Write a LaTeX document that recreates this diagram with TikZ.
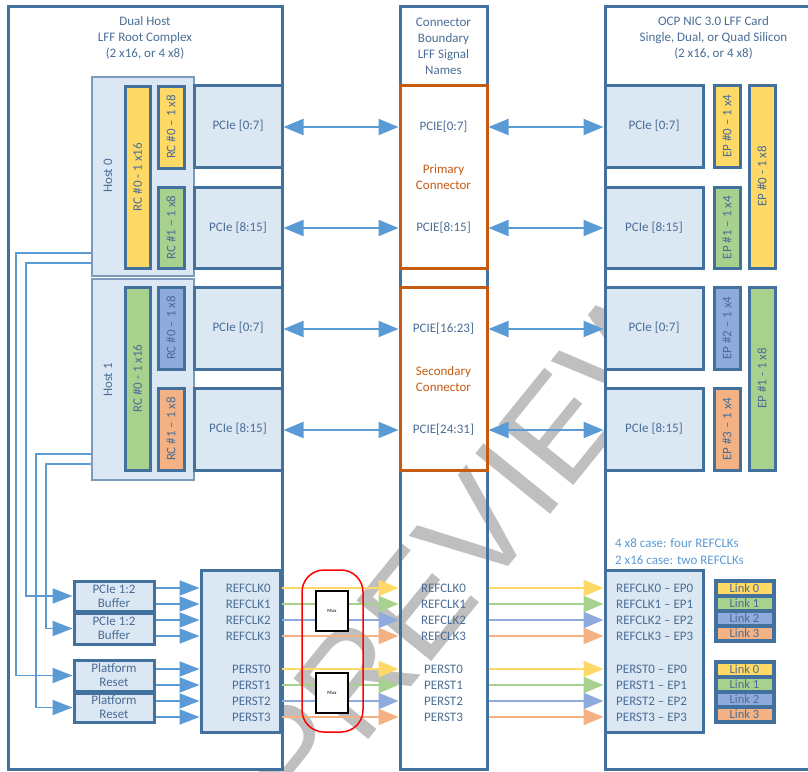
\documentclass[tikz,border=0pt]{standalone}
\usepackage{fontspec}
\setmainfont{Carlito}
\newfontfamily\wmfont{Liberation Sans}
\usetikzlibrary{arrows.meta}

\definecolor{edge}{HTML}{41719C}
\definecolor{lite}{HTML}{DCE7F4}
\definecolor{txt}{HTML}{4A6E96}
\definecolor{arr}{HTML}{5B9BD5}
\definecolor{conn}{HTML}{C55A11}
\definecolor{yel}{HTML}{FFD966}
\definecolor{grn}{HTML}{A9D18E}
\definecolor{blu}{HTML}{8FAADC}
\definecolor{org}{HTML}{F4B183}

\tikzset{
  every node/.style={font=\fontsize{13}{16}\selectfont, text=txt, inner sep=0pt},
  frame/.style={draw=edge, line width=3pt},
  panel/.style={draw=edge, line width=3pt, fill=lite},
  hostbox/.style={draw=edge!70, line width=2.5pt, fill=lite},
  lane/.style={draw=edge, line width=3pt, fill=#1},
  plug/.style={draw=conn, line width=3pt},
  link/.style={draw=arr, line width=2.2pt, {Triangle[length=20pt,width=16pt]}-{Triangle[length=20pt,width=16pt]}},
  wire/.style={draw=arr, line width=1.8pt, -{Triangle[length=20pt,width=15pt]}},
  sig/.style={draw=#1, line width=2.5pt, -{Triangle[length=20pt,width=16pt]}},
  smallbox/.style={draw=edge, line width=3pt, fill=lite, align=center, font=\fontsize{13}{14}\selectfont},
  muxbox/.style={draw=black, line width=1.5pt, fill=white, text=black, font=\fontsize{5}{6}\selectfont},
}

\begin{document}
\begin{tikzpicture}[x=1pt,y=-1pt]
\useasboundingbox (0,0) rectangle (808,771);
\clip (0,0) rectangle (808,771);

\node[rotate=51, text=black!25, font=\wmfont\fontsize{140}{140}\selectfont] (wm) at (468,540) {PREVIEW};

\node[frame, fill=white, minimum width=274pt, minimum height=763pt] (rcx) at (145,387.5) {};
\node[frame, minimum width=87pt, minimum height=763pt] (cnb) at (443.5,387.5) {};
\node[frame, fill=white, minimum width=210pt, minimum height=763pt] (nic) at (710,387.5) {};

\node[align=center] (rct) at (145,38) {Dual Host\\LFF Root Complex\\(2 x16, or 4 x8)};
\node[align=center] (cnt) at (443.5,46) {Connector\\Boundary\\LFF Signal\\Names};
\node[align=center] (nict) at (713.5,38) {OCP NIC 3.0 LFF Card\\Single, Dual, or Quad Silicon\\(2 x16, or 4 x8)};

\node[hostbox, minimum width=102pt, minimum height=199pt] (h0) at (143,176.5) {};
\node[hostbox, minimum width=102pt, minimum height=201pt] (h1) at (143,379.5) {};
\node[rotate=90] (h0t) at (108,176) {Host 0};
\node[rotate=90] (h1t) at (108,380) {Host 1};

\node[lane=yel, rotate=90, minimum width=182pt, minimum height=25pt] (rc0) at (137.5,177) {RC \#0 - 1 x16};
\node[lane=yel, rotate=90, minimum width=82pt, minimum height=26pt] (rc0a) at (171,127) {RC \#0 – 1 x8};
\node[lane=grn, rotate=90, minimum width=81pt, minimum height=26pt] (rc0b) at (171,227.5) {RC \#1 – 1 x8};
\node[lane=grn, rotate=90, minimum width=183pt, minimum height=25pt] (rc1) at (137.5,378.5) {RC \#0 - 1 x16};
\node[lane=blu, rotate=90, minimum width=82pt, minimum height=26pt] (rc1a) at (171,328) {RC \#0 – 1 x8};
\node[lane=org, rotate=90, minimum width=82pt, minimum height=26pt] (rc1b) at (171,429) {RC \#1 – 1 x8};

\node[panel, minimum width=88pt, minimum height=82pt] (lp0) at (238,126) {PCIe [0:7]};
\node[panel, minimum width=88pt, minimum height=81pt] (lp1) at (238,227.5) {PCIe [8:15]};
\node[panel, minimum width=88pt, minimum height=82pt] (lp2) at (238,328) {PCIe [0:7]};
\node[panel, minimum width=88pt, minimum height=82pt] (lp3) at (238,429) {PCIe [8:15]};

\node[plug, minimum width=87pt, minimum height=183pt] (pri) at (443.5,176.5) {};
\node[plug, minimum width=87pt, minimum height=183pt] (sec) at (443.5,378.5) {};
\node (cs0) at (443.5,127) {PCIE[0:7]};
\node (cs1) at (443.5,228) {PCIE[8:15]};
\node (cs2) at (443.5,329) {PCIE[16:23]};
\node (cs3) at (443.5,430) {PCIE[24:31]};
\node[align=center, text=conn] (prit) at (443.5,177) {Primary\\Connector};
\node[align=center, text=conn] (sect) at (443.5,379) {Secondary\\Connector};

\node[panel, minimum width=98pt, minimum height=82pt] (rp0) at (654,126) {PCIe [0:7]};
\node[panel, minimum width=98pt, minimum height=81pt] (rp1) at (654,227.5) {PCIe [8:15]};
\node[panel, minimum width=98pt, minimum height=82pt] (rp2) at (654,328) {PCIe [0:7]};
\node[panel, minimum width=98pt, minimum height=82pt] (rp3) at (654,429) {PCIe [8:15]};

\node[lane=yel, rotate=90, minimum width=82pt, minimum height=26pt] (ep0) at (727,126) {EP \#0 – 1 x4};
\node[lane=grn, rotate=90, minimum width=81pt, minimum height=26pt] (ep1) at (727,227.5) {EP \#1 – 1 x4};
\node[lane=blu, rotate=90, minimum width=82pt, minimum height=26pt] (ep2) at (727,328) {EP \#2 – 1 x4};
\node[lane=org, rotate=90, minimum width=82pt, minimum height=26pt] (ep3) at (727,429) {EP \#3 – 1 x4};
\node[lane=yel, rotate=90, minimum width=183pt, minimum height=26pt] (ep8a) at (762,176.5) {EP \#0 - 1 x8};
\node[lane=grn, rotate=90, minimum width=183pt, minimum height=26pt] (ep8b) at (762,378.5) {EP \#1 - 1 x8};

\foreach \i in {0,1,2,3} {
  \draw[link] (lp\i.east |- cs\i) -- (cs\i -| cnb.west);
  \draw[link] (cs\i -| cnb.east) -- (cs\i -| rp\i.west);
}

\node[smallbox, minimum width=80pt, minimum height=30pt] (buf0) at (114,596) {PCIe 1:2\\Buffer};
\node[smallbox, minimum width=80pt, minimum height=31pt] (buf1) at (114,628.5) {PCIe 1:2\\Buffer};
\node[smallbox, minimum width=80pt, minimum height=31pt] (rst0) at (114,675.5) {Platform\\Reset};
\node[smallbox, minimum width=80pt, minimum height=29pt] (rst1) at (114,707.5) {Platform\\Reset};

\coordinate (k0) at (16,253);
\coordinate (k1) at (26,263);
\coordinate (k2) at (36,454);
\coordinate (k3) at (46,464);
\draw[wire] (k0 -| h0.west) -- (k0) |- (rst0.west);
\draw[wire] (k1 -| h0.west) -- (k1) |- (buf0.west);
\draw[wire] (k2 -| h1.west) -- (k2) |- (rst1.west);
\draw[wire] (k3 -| h1.west) -- (k3) |- (buf1.west);

\node[panel, minimum width=79pt, minimum height=162pt] (hs) at (240.5,651) {};
\node[panel, minimum width=98pt, minimum height=162pt] (ns) at (654,651) {};

\foreach \c [count=\i from 0] in {yel,grn,blu,org} {
  \node[anchor=east] (hr\i) at (271,588+16*\i) {REFCLK\i};
  \node[anchor=east] (hp\i) at (271,669+16*\i) {PERST\i};
  \node (mr\i) at (443.5,588+16*\i) {REFCLK\i};
  \node (mp\i) at (443.5,669+16*\i) {PERST\i};
  \node[anchor=west] (nr\i) at (616,588+16*\i) {REFCLK\i\ – EP\i};
  \node[anchor=west] (np\i) at (616,669+16*\i) {PERST\i\ – EP\i};
  \draw[sig=\c] (hr\i -| hs.east) -- (hr\i -| cnb.west);
  \draw[sig=\c] (hr\i -| cnb.east) -- (hr\i -| ns.west);
  \draw[sig=\c] (hp\i -| hs.east) -- (hp\i -| cnb.west);
  \draw[sig=\c] (hp\i -| cnb.east) -- (hp\i -| ns.west);
}

\draw[wire] (buf0.east |- hr0) -- (hr0 -| hs.west);
\draw[wire] (buf0.east |- hr1) -- (hr1 -| hs.west);
\draw[wire] (buf1.east |- hr2) -- (hr2 -| hs.west);
\draw[wire] (buf1.east |- hr3) -- (hr3 -| hs.west);
\draw[wire] (rst0.east |- hp0) -- (hp0 -| hs.west);
\draw[wire] (rst0.east |- hp1) -- (hp1 -| hs.west);
\draw[wire] (rst1.east |- hp2) -- (hp2 -| hs.west);
\draw[wire] (rst1.east |- hp3) -- (hp3 -| hs.west);

\node[muxbox, minimum width=32pt, minimum height=40pt] (mux0) at (332,611) {Mux};
\node[muxbox, minimum width=32pt, minimum height=40pt] (mux1) at (332,693) {Mux};
\node[draw=red, line width=1.5pt, rounded corners=22pt, minimum width=61pt, minimum height=162pt] (sel) at (332.5,651) {};

\node[anchor=west, align=left, text=arr, font=\fontsize{13}{17}\selectfont] (note) at (615,551.5) {4 x8 case: four REFCLKs\\2 x16 case: two REFCLKs};

\node[fill=edge, minimum width=62pt, minimum height=64pt] (lg0) at (744.5,610.5) {};
\node[fill=edge, minimum width=62pt, minimum height=64pt] (lg1) at (744.5,691.5) {};
\foreach \c [count=\i from 0] in {yel,grn,blu,org} {
  \node[fill=\c, minimum width=54pt, minimum height=11pt, font=\fontsize{12.5}{13}\selectfont] (la\i) at (744.5,588.5+15*\i) {Link \i};
  \node[fill=\c, minimum width=54pt, minimum height=11pt, font=\fontsize{12.5}{13}\selectfont] (lb\i) at (744.5,669.5+15*\i) {Link \i};
}
\end{tikzpicture}
\end{document}
